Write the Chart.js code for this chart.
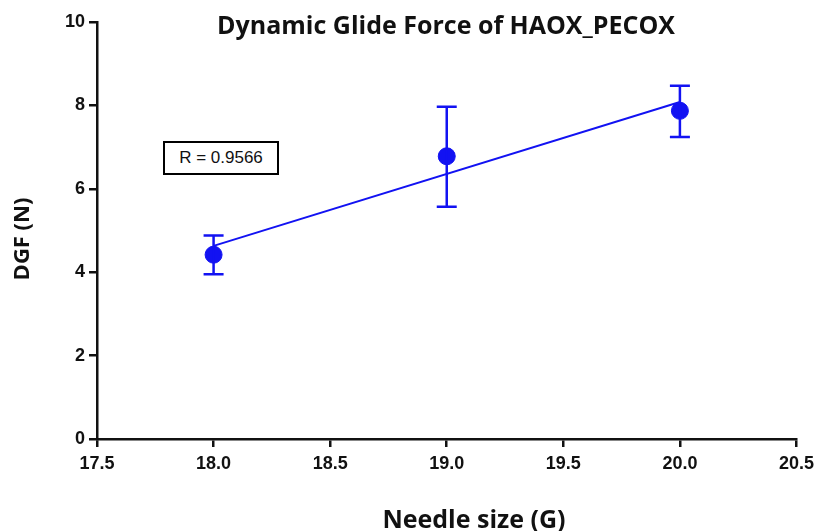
<!DOCTYPE html>
<html>
<head>
<meta charset="utf-8">
<title>Dynamic Glide Force of HAOX_PECOX</title>
<script src="https://cdn.jsdelivr.net/npm/chart.js@4.4.1/dist/chart.umd.min.js"></script>
<style>
  html, body { margin: 0; padding: 0; background: #fff; }
  #wrap { position: relative; width: 820px; height: 531px; }
  #rbox {
    position: absolute; left: 163px; top: 141px; width: 112px; height: 30px;
    border: 2px solid #000; background: #fff;
    font: 17px "Liberation Sans", Arial, sans-serif; color: #111;
    display: flex; align-items: center; justify-content: center;
  }
</style>
</head>
<body>
<div id="wrap">
  <canvas id="dgfChart" width="820" height="531"></canvas>
  <div id="rbox">R = 0.9566</div>
</div>
<script>
const needleSizes = [18, 19, 20];
const dgfMeans = [4.42, 6.78, 7.87];
const dgfUpper = [4.88, 7.97, 8.47];
const dgfLower = [3.95, 5.57, 7.24];
const xTicks = [17.5, 18.0, 18.5, 19.0, 19.5, 20.0, 20.5];
const yTicks = [0, 2, 4, 6, 8, 10];

const blue = '#1212f2';

// least squares line through the means
function fitLine(xs, ys) {
  const n = xs.length;
  const mx = xs.reduce((a, b) => a + b, 0) / n;
  const my = ys.reduce((a, b) => a + b, 0) / n;
  let sxy = 0, sxx = 0;
  xs.forEach((x, i) => { sxy += (x - mx) * (ys[i] - my); sxx += (x - mx) * (x - mx); });
  const slope = sxy / sxx;
  const icpt = my - slope * mx;
  const x0 = xs[0], x1 = xs[n - 1];
  return [{ x: x0, y: icpt + slope * x0 }, { x: x1, y: icpt + slope * x1 }];
}

const errorBars = {
  id: 'errorBars',
  afterDatasetsDraw(chart) {
    const { ctx, scales: { x, y } } = chart;
    ctx.save();
    ctx.strokeStyle = blue;
    ctx.lineWidth = 2.5;
    needleSizes.forEach((n, i) => {
      const px = x.getPixelForValue(n);
      const top = y.getPixelForValue(dgfUpper[i]);
      const bot = y.getPixelForValue(dgfLower[i]);
      ctx.beginPath();
      ctx.moveTo(px, top); ctx.lineTo(px, bot);
      ctx.moveTo(px - 10, top); ctx.lineTo(px + 10, top);
      ctx.moveTo(px - 10, bot); ctx.lineTo(px + 10, bot);
      ctx.stroke();
    });
    ctx.restore();
  }
};

const titles = {
  id: 'titles',
  afterDraw(chart) {
    const { ctx } = chart;
    ctx.save();
    ctx.fillStyle = '#111';
    ctx.textAlign = 'center';
    ctx.textBaseline = 'middle';
    ctx.font = 'bold 25px "Open Sans", sans-serif';
    ctx.fillText('Dynamic Glide Force of HAOX_PECOX', 446, 27);
    ctx.fillText('Needle size (G)', 474, 521);
    ctx.font = 'bold 22px "Open Sans", sans-serif';
    ctx.translate(23, 239);
    ctx.rotate(-Math.PI / 2);
    ctx.fillText('DGF (N)', 0, 0);
    ctx.restore();
  }
};

const tickFont = { family: '"Liberation Sans", Arial, sans-serif', size: 18, weight: 'bold' };

new Chart(document.getElementById('dgfChart'), {
  type: 'scatter',
  data: {
    datasets: [
      {
        type: 'line',
        data: fitLine(needleSizes, dgfMeans),
        borderColor: blue,
        borderWidth: 2,
        pointRadius: 0,
        fill: false
      },
      {
        data: needleSizes.map((n, i) => ({ x: n, y: dgfMeans[i] })),
        backgroundColor: blue,
        borderColor: blue,
        pointRadius: 8.5
      }
    ]
  },
  options: {
    responsive: false,
    animation: false,
    layout: { padding: { left: 0, top: 22, right: 23, bottom: 0 } },
    plugins: { legend: { display: false }, tooltip: { enabled: false } },
    scales: {
      x: {
        type: 'linear',
        min: 17.5, max: 20.5,
        afterBuildTicks: s => { s.ticks = xTicks.map(v => ({ value: v })); },
        afterFit: s => { s.height = 92; },
        ticks: { color: '#111', font: tickFont, padding: 6, callback: v => v.toFixed(1) },
        grid: { display: true, drawOnChartArea: false, drawTicks: true, tickLength: 8, color: '#111', lineWidth: 2.5 },
        border: { display: true, color: '#111', width: 2.5 }
      },
      y: {
        min: 0, max: 10,
        afterBuildTicks: s => { s.ticks = yTicks.map(v => ({ value: v })); },
        afterFit: s => { s.width = 97; },
        ticks: { color: '#111', font: tickFont, padding: 4 },
        grid: { display: true, drawOnChartArea: false, drawTicks: true, tickLength: 8, color: '#111', lineWidth: 2.5 },
        border: { display: true, color: '#111', width: 2.5 }
      }
    }
  },
  plugins: [errorBars, titles]
});
</script>
</body>
</html>
